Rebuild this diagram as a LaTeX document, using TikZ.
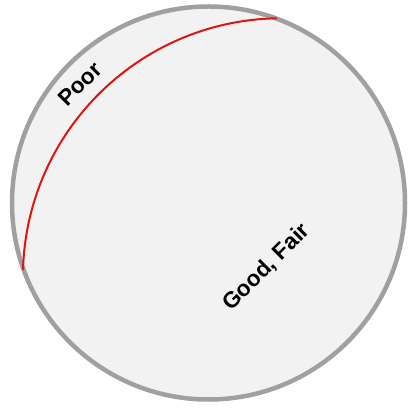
\documentclass[tikz,border=0pt]{standalone}
\usepackage{fontspec}
\setmainfont{Liberation Sans}
\begin{document}
\begin{tikzpicture}[x=1pt,y=1pt,
  lbl/.style={font=\bfseries\fontsize{22.5}{26}\selectfont, text=black, inner sep=0pt}]
\useasboundingbox (0,0) rectangle (408,409);
\fill[white] (0,0) rectangle (408,409);
\draw[line width=4.5pt, draw={rgb,255:red,160;green,160;blue,160}, fill={rgb,255:red,242;green,242;blue,242}] (208.5,206) circle[radius=196.5];
\coordinate (rs) at (23,139);
\draw[line width=2pt, draw={rgb,255:red,225;green,20;blue,20}] (rs) arc[start angle=178.4, end angle=91.1, radius=259];
\node[lbl, rotate=45] (poor) at (80,325) {Poor};
\node[lbl, rotate=45] (good) at (266.5,141.5) {Good, Fair};
\end{tikzpicture}
\end{document}
